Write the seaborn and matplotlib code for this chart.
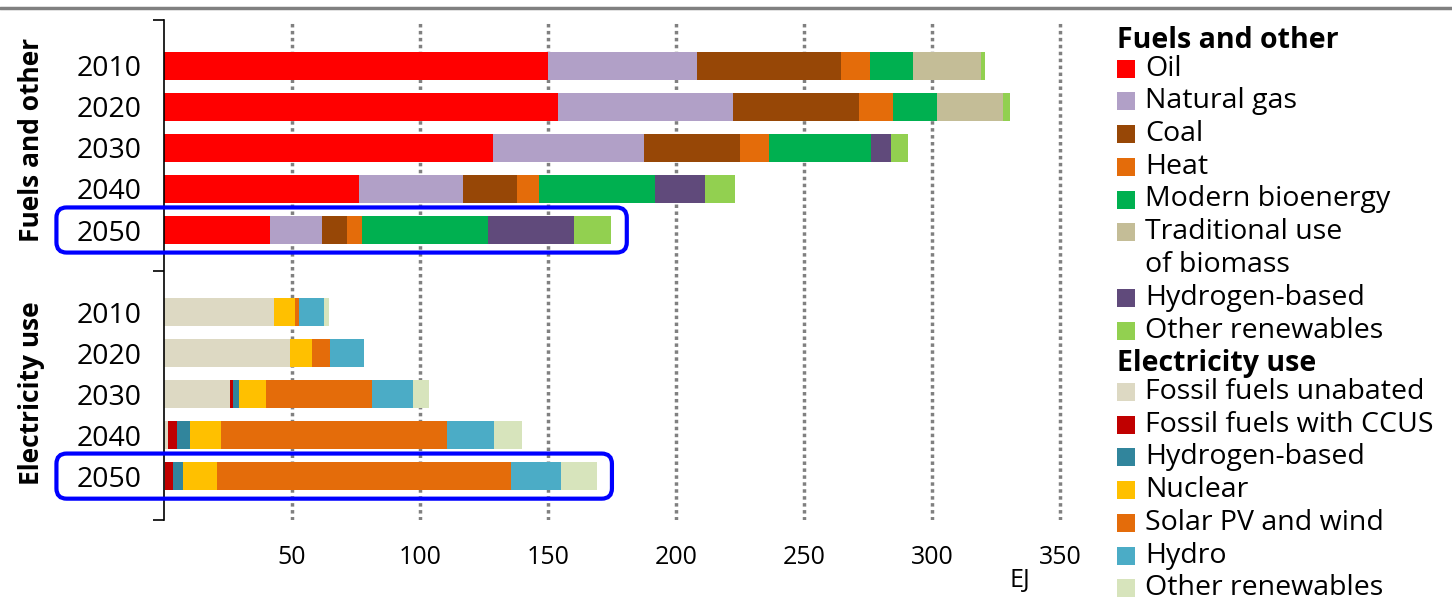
import numpy as np
import pandas as pd
import matplotlib
matplotlib.use("Agg")
from matplotlib import pyplot as plt
from matplotlib.patches import FancyBboxPatch, Rectangle
from matplotlib.lines import Line2D
import seaborn as sns

years = ["2010", "2020", "2030", "2040", "2050"]

# Fuels and other (EJ)
fuel_names = ["Oil", "Natural gas", "Coal", "Heat", "Modern bioenergy",
              "Traditional use\nof biomass", "Hydrogen-based", "Other renewables"]
fuel_colors = ["#FF0000", "#B1A0C7", "#974706", "#E46C0A", "#00B050",
               "#C4BD97", "#604A7B", "#92D050"]
oil = [150, 154, 128.4, 76.3, 41.4]
natural_gas = [58, 68, 59, 40.6, 20.2]
coal = [56.5, 49.5, 37.5, 21, 10]
heat = [11, 13, 11.3, 8.4, 5.7]
modern_bio = [17, 17.5, 39.7, 45.6, 49.4]
traditional_bio = [26.5, 25.5, 0, 0, 0]
hydrogen_fuel = [0, 0, 8, 19.5, 33.5]
other_ren_fuel = [1.4, 2.8, 6.7, 11.4, 14.5]

# Electricity use (EJ)
elec_names = ["Fossil fuels unabated", "Fossil fuels with CCUS", "Hydrogen-based",
              "Nuclear", "Solar PV and wind", "Hydro", "Other renewables"]
elec_colors = ["#DDD9C3", "#C00000", "#31859C", "#FFC000", "#E46C0A",
               "#4BACC6", "#D7E4BC"]
fossil_unabated = [43, 49.2, 25.8, 1.5, 0.4]
fossil_ccus = [0, 0, 1.2, 3.7, 3]
hydrogen_elec = [0, 0, 2.2, 5, 4]
nuclear = [8.3, 8.7, 10.6, 12.1, 13.1]
solar_wind = [1.3, 6.9, 41.6, 88.2, 114.9]
hydro = [9.8, 13.4, 16, 18.4, 19.8]
other_ren_elec = [2, 0, 5.9, 10.8, 13.7]

fuel_vals = [oil, natural_gas, coal, heat, modern_bio, traditional_bio, hydrogen_fuel, other_ren_fuel]
elec_vals = [fossil_unabated, fossil_ccus, hydrogen_elec, nuclear, solar_wind, hydro, other_ren_elec]

fuel_pos = np.arange(5)
elec_pos = np.arange(5) + 6

sns.set_theme(style="white")
plt.rcParams['font.family'] = ['Open Sans', 'DejaVu Sans']
plt.rcParams['text.color'] = 'black'

W, H = 1452, 602
fig = plt.figure(figsize=(W / 100, H / 100), dpi=100)
ax = fig.add_axes([164 / W, 1 - 520 / H, (1086 - 164) / W, 500 / H])


def stack(vals, pos, colors):
    # draw cumulative totals from the last part back to the first
    cum = np.cumsum(np.array(vals, dtype=float), axis=0)
    for k in range(len(vals) - 1, -1, -1):
        df = pd.DataFrame({"value": cum[k], "pos": pos})
        sns.barplot(data=df, x="value", y="pos", orient="h", native_scale=True,
                    color=colors[k], saturation=1, width=0.68, linewidth=0,
                    errorbar=None, ax=ax)
    return cum[-1]


fuel_tot = stack(fuel_vals, fuel_pos, fuel_colors)
elec_tot = stack(elec_vals, elec_pos, elec_colors)

ax.set_xlim(0, 360)
y_top, y_bot = -1.12, 11.07
ax.set_ylim(y_bot, y_top)
ax.set_xlabel("")
ax.set_ylabel("")

ax.set_xticks([50, 100, 150, 200, 250, 300, 350])
ax.set_xticklabels(["50", "100", "150", "200", "250", "300", "350"])
ax.tick_params(axis="x", length=0, pad=18, labelsize=18, labelcolor="black")
ax.xaxis.grid(True, linestyle=(0, (1, 1)), color="#808080", linewidth=2.5)
ax.yaxis.grid(False)
ax.set_axisbelow(True)

ax.set_yticks(list(fuel_pos) + list(elec_pos))
ax.set_yticklabels(years + years)
ax.tick_params(axis="y", which="major", length=0, pad=16, labelsize=20.5, labelcolor="black")
ax.set_yticks([y_top, 5, y_bot], minor=True)
ax.tick_params(axis="y", which="minor", length=8, width=1.2, color="black", direction="out", left=True)

for s in ["top", "right", "bottom"]:
    ax.spines[s].set_visible(False)
ax.spines["left"].set_color("black")
ax.spines["left"].set_linewidth(1.2)

# highlight boxes around the 2050 rows
for row, tot in [(fuel_pos[-1], fuel_tot[-1]), (elec_pos[-1], elec_tot[-1])]:
    box = FancyBboxPatch((-42, row - 0.55), tot + 48, 1.1,
                         boxstyle="round,pad=0,rounding_size=4", mutation_aspect=0.0625,
                         transform=ax.transData, clip_on=False, fill=False,
                         edgecolor="#0000FF", linewidth=3, zorder=5)
    ax.add_patch(box)

# group labels
fig.text(32 / W, 1 - 140 / H, "Fuels and other", rotation=90, ha="center", va="center",
         fontsize=19, fontweight="bold")
fig.text(32 / W, 1 - 393 / H, "Electricity use", rotation=90, ha="center", va="center",
         fontsize=19, fontweight="bold")

fig.text(1020 / W, 1 - 580 / H, "EJ", ha="center", va="center", fontsize=18)

# top rule
fig.add_artist(Line2D([0, 1], [1 - 8 / H, 1 - 8 / H], transform=fig.transFigure,
                      color="#808080", linewidth=2.5))

# legend
step = 32.75
fs = 20.5
fig.text(1117 / W, 1 - 40 / H, "Fuels and other", ha="left", va="center",
         fontsize=fs, fontweight="bold")


def legend_rows(names, colors, y):
    for name, col in zip(names, colors):
        fig.add_artist(Rectangle((1117 / W, 1 - (y + 9) / H), 18 / W, 18 / H,
                                 transform=fig.transFigure, facecolor=col, edgecolor="none"))
        for ln in name.split("\n"):
            fig.text(1145 / W, 1 - y / H, ln, ha="left", va="center", fontsize=fs)
            y += step
    return y


y = legend_rows(fuel_names, fuel_colors, 68.5)
fig.text(1117 / W, 1 - (y + 0.5) / H, "Electricity use", ha="left", va="center",
         fontsize=fs, fontweight="bold")
legend_rows(elec_names, elec_colors, y + 28.5)

plt.savefig("out.png", dpi=100)
